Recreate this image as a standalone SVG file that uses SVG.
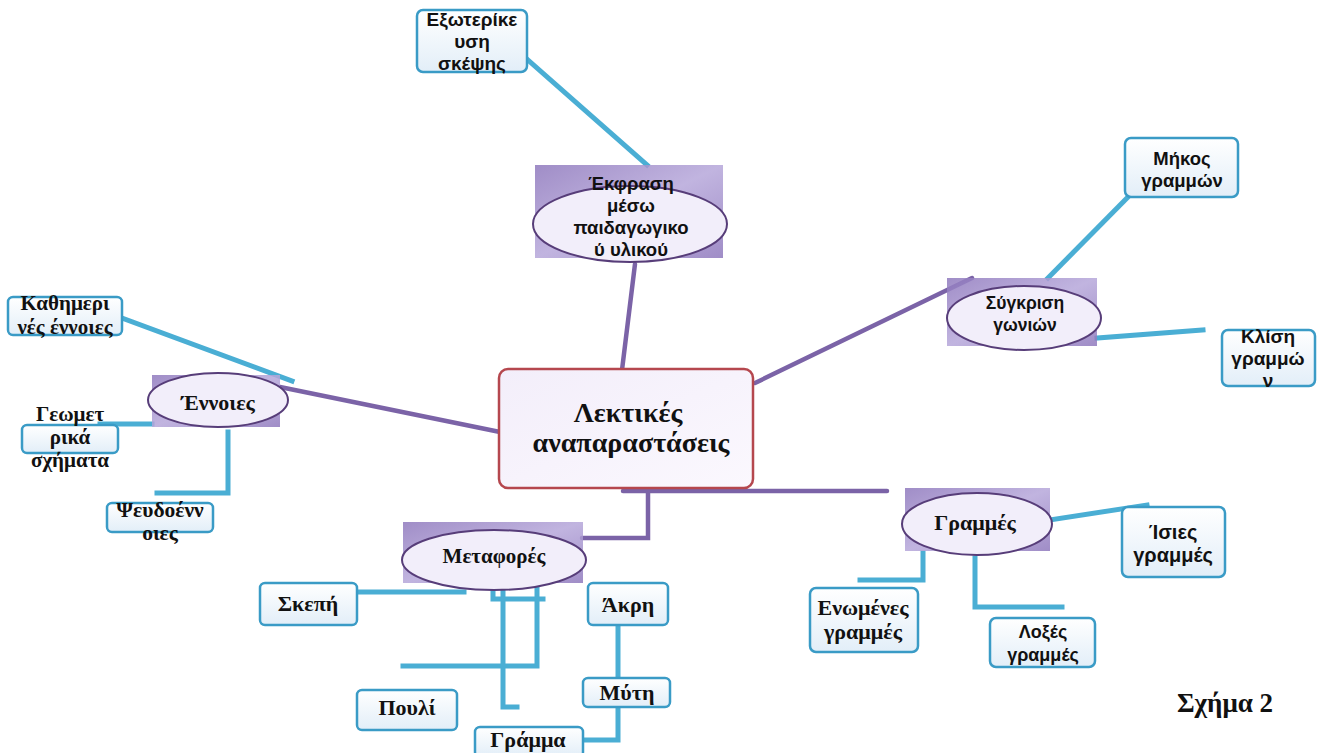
<svg xmlns="http://www.w3.org/2000/svg" width="1319" height="753" viewBox="0 0 1319 753">
<defs>
<linearGradient id="boxg" x1="0" y1="0" x2="0" y2="1">
<stop offset="0" stop-color="#ffffff"/>
<stop offset="1" stop-color="#e2eef8"/>
</linearGradient>
<linearGradient id="purg" x1="0" y1="0" x2="1" y2="1">
<stop offset="0" stop-color="#8f79bd"/>
<stop offset="0.5" stop-color="#b6a7da"/>
<stop offset="1" stop-color="#8f79bd"/>
</linearGradient>
<linearGradient id="cg" x1="0" y1="0" x2="1" y2="1">
<stop offset="0" stop-color="#f3eefa"/>
<stop offset="1" stop-color="#fbf8fe"/>
</linearGradient>
</defs>
<style>
.blue{fill:none;stroke:#4aaed4;stroke-width:5;stroke-linecap:square}
.pur{fill:none;stroke:#7b63a7;stroke-width:4.5;stroke-linecap:round}
.box{fill:url(#boxg);stroke:#3a9bc6;stroke-width:2.5}
.prect{fill:url(#purg);opacity:0.85}
.ell{fill:#f2eefa;stroke:#573d79;stroke-width:2}
.ss{font-family:"Liberation Sans",Arial,sans-serif;font-weight:bold;font-size:18.5px;fill:#111;text-anchor:middle}
.sf{font-family:"Liberation Serif","DejaVu Serif",serif;font-weight:bold;font-size:22px;fill:#111;text-anchor:middle}
</style>
<rect width="1319" height="753" fill="#ffffff"/>
<g id="connectors">
<line class="pur" x1="635" y1="264" x2="622" y2="370"/>
<line class="pur" x1="755" y1="383" x2="972" y2="278"/>
<line class="pur" x1="280" y1="387" x2="500" y2="432"/>
<polyline class="pur" points="648,490 648,538 582,538"/>
<line class="pur" x1="623" y1="491" x2="887" y2="491"/>
<line class="blue" x1="528" y1="60" x2="647" y2="165"/>
<line class="blue" x1="1048" y1="278" x2="1127" y2="198"/>
<line class="blue" x1="1097" y1="338" x2="1203" y2="330"/>
<line class="blue" x1="122" y1="318" x2="292" y2="381"/>
<line class="blue" x1="100" y1="424" x2="152" y2="424"/>
<polyline class="blue" points="228,432 228,493 157,493"/>
<line class="blue" x1="357" y1="592" x2="464" y2="592"/>
<polyline class="blue" points="493,588 493,599 543,599"/>
<polyline class="blue" points="503,590 503,707 517,707"/>
<polyline class="blue" points="537,588 537,666 403,666"/>
<line class="blue" x1="618" y1="625" x2="618" y2="678"/>
<polyline class="blue" points="618,707 618,740 583,740"/>
<polyline class="blue" points="923,553 923,580 860,580"/>
<polyline class="blue" points="975,558 975,607 1062,607"/>
<line class="blue" x1="1050" y1="520" x2="1147" y2="505"/>
</g>
<g id="central">
<rect x="499" y="369" width="254" height="119" rx="9" fill="url(#cg)" stroke="#b5474e" stroke-width="2.5"/>
<text class="sf" x="628" y="422" style="font-size:28px">Λεκτικές</text>
<text class="sf" x="631" y="452" style="font-size:28px">αναπαραστάσεις</text>
</g>
<g id="ekfrasi">
<rect class="prect" x="535" y="165" width="188" height="93"/>
<ellipse class="ell" cx="630" cy="224" rx="97" ry="38"/>
<text class="ss" x="631" y="190">Έκφραση</text>
<text class="ss" x="631" y="212">μέσω</text>
<text class="ss" x="631" y="234">παιδαγωγικο</text>
<text class="ss" x="631" y="256">ύ υλικού</text>
</g>
<g id="exoterikeusi">
<rect class="box" x="417" y="10" width="110" height="62" rx="6"/>
<text class="ss" x="472" y="26" style="font-size:19px">Εξωτερίκε</text>
<text class="ss" x="472" y="48" style="font-size:19px">υση</text>
<text class="ss" x="472" y="70" style="font-size:19px">σκέψης</text>
</g>
<g id="sygkrisi">
<rect class="prect" x="947" y="278" width="150" height="68"/>
<ellipse class="ell" cx="1024" cy="318" rx="77" ry="32"/>
<text class="ss" x="1025" y="309" style="font-size:17.5px">Σύγκριση</text>
<text class="ss" x="1025" y="331" style="font-size:17.5px">γωνιών</text>
</g>
<g id="mikos">
<rect class="box" x="1125" y="138" width="113" height="59" rx="6"/>
<text class="ss" x="1182" y="165">Μήκος</text>
<text class="ss" x="1182" y="187">γραμμών</text>
</g>
<g id="klisi">
<rect class="box" x="1222" y="330" width="93" height="56" rx="6"/>
<text class="ss" x="1268" y="343" style="font-size:19px">Κλίση</text>
<text class="ss" x="1268" y="365" style="font-size:19px">γραμμώ</text>
<text class="ss" x="1268" y="387" style="font-size:19px">ν</text>
</g>
<g id="ennoies">
<rect class="prect" x="152" y="375" width="128" height="52"/>
<ellipse class="ell" cx="218" cy="400" rx="70" ry="27"/>
<text class="sf" x="218" y="410">Έννοιες</text>
</g>
<g id="kathimerines">
<rect class="box" x="8" y="297" width="114" height="38" rx="5"/>
<text class="sf" x="65" y="310" style="font-size:21px">Καθημερι</text>
<text class="sf" x="65" y="334" style="font-size:21px">νές έννοιες</text>
</g>
<g id="geometrika">
<rect class="box" x="22" y="425" width="96" height="28" rx="5"/>
<text class="sf" x="70" y="421" style="font-size:21px">Γεωμετ</text>
<text class="sf" x="70" y="444" style="font-size:21px">ρικά</text>
<text class="sf" x="70" y="467" style="font-size:21px">σχήματα</text>
</g>
<g id="pseudoennoies">
<rect class="box" x="107" y="503" width="106" height="29" rx="5"/>
<text class="sf" x="160" y="517" style="font-size:21.5px">Ψευδοένν</text>
<text class="sf" x="160" y="540" style="font-size:21.5px">οιες</text>
</g>
<g id="metafores">
<rect class="prect" x="403" y="522" width="180" height="61"/>
<ellipse class="ell" cx="494" cy="560" rx="92" ry="30"/>
<text class="sf" x="494" y="563" style="font-size:21px">Μεταφορές</text>
</g>
<g id="skepi">
<rect class="box" x="260" y="583" width="97" height="42" rx="5"/>
<text class="sf" x="308" y="611">Σκεπή</text>
</g>
<g id="akri">
<rect class="box" x="588" y="583" width="80" height="42" rx="5"/>
<text class="sf" x="628" y="612">Άκρη</text>
</g>
<g id="myti">
<rect class="box" x="583" y="678" width="87" height="29" rx="5"/>
<text class="sf" x="627" y="700">Μύτη</text>
</g>
<g id="gramma">
<rect class="box" x="475" y="727" width="108" height="30" rx="5"/>
<text class="sf" x="528" y="747">Γράμμα</text>
</g>
<g id="pouli">
<rect class="box" x="357" y="690" width="100" height="40" rx="5"/>
<text class="sf" x="407" y="715">Πουλί</text>
</g>
<g id="grammes">
<rect class="prect" x="905" y="488" width="145" height="63"/>
<ellipse class="ell" cx="977" cy="524" rx="75" ry="31"/>
<text class="sf" x="975" y="530">Γραμμές</text>
</g>
<g id="isies">
<rect class="box" x="1122" y="507" width="103" height="70" rx="6"/>
<text class="ss" x="1173" y="539" style="font-size:20px">Ίσιες</text>
<text class="ss" x="1173" y="562" style="font-size:20px">γραμμές</text>
</g>
<g id="enomenes">
<rect class="box" x="810" y="588" width="108" height="64" rx="6"/>
<text class="sf" x="863" y="615">Ενωμένες</text>
<text class="sf" x="863" y="639">γραμμές</text>
</g>
<g id="loxes">
<rect class="box" x="990" y="618" width="105" height="49" rx="6"/>
<text class="ss" x="1043" y="638" style="font-size:18px">Λοξές</text>
<text class="ss" x="1043" y="661" style="font-size:18px">γραμμές</text>
</g>
<text class="sf" x="1225" y="712" style="font-size:27px">Σχήμα 2</text>
</svg>
